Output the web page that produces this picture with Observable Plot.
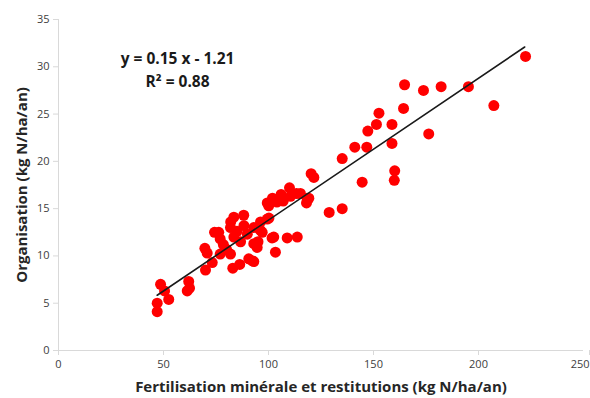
<!DOCTYPE html>
<html>
<head>
<meta charset="utf-8">
<script src="https://cdn.jsdelivr.net/npm/d3@7"></script>
<script src="https://cdn.jsdelivr.net/npm/@observablehq/plot@0.6"></script>
<style>
  body { margin: 0; background: #fff; }
</style>
</head>
<body>
<div id="chart"></div>
<script>
const fertilisation = [47,47,48.6,50.5,52.5,61.3,62,62.4,69.7,70.8,70,73.2,74.3,76.3,77,77,78.5,80,81.9,81.9,82,83.5,83.5,83,85,86.7,86.3,88.2,88.3,89.9,90.6,92.2,93,93,93,94.6,95,96.2,96.2,97,99.4,100.2,100.1,99.4,101.9,102.5,101.7,103.3,104,106,107,108.9,110,110.5,113.3,113.7,115.2,118.1,118.4,119.2,120.3,121.6,128.9,135.1,135.1,141.1,144.6,146.8,147.3,151.4,152.6,158.8,158.8,160.1,159.9,164.3,164.8,173.8,176.3,182.2,195.2,207.3,222.4];
const organisation = [4.1,5.0,7.0,6.3,5.4,6.3,7.3,6.6,10.8,10.3,8.5,9.3,12.5,12.5,11.8,10.2,11.2,10.7,10.2,13.0,13.6,14.1,12.0,8.7,12.6,11.5,9.1,14.3,13.2,12.3,9.7,9.5,13.0,11.3,9.4,10.9,11.5,13.6,12.7,12.5,13.9,14.0,15.3,15.6,16.1,12.0,11.9,10.4,15.7,16.5,15.8,11.9,17.2,16.3,16.6,12.0,16.6,15.6,16.1,16.1,18.7,18.3,14.6,15.0,20.3,21.5,17.8,21.5,23.2,23.9,25.1,23.9,21.9,19.0,18.0,25.6,28.1,27.5,22.9,27.9,27.9,25.9,31.1];
const trendX = [47, 222];
const trendY = [5.84, 32.09];
const xTicks = [0, 50, 100, 150, 200];
const xTickLast = [250];
const yTicks = [0, 5, 10, 15, 20, 25, 30, 35];
const equationText = ["y = 0.15 x - 1.21\nR² = 0.88"];
const xLabel = "Fertilisation minérale et restitutions (kg N/ha/an)";
const yLabel = "Organisation (kg N/ha/an)";

const points = fertilisation.map((x, i) => ({x, y: organisation[i]}));
const trend = trendX.map((x, i) => ({x, y: trendY[i]}));

const chart = Plot.plot({
  width: 590,
  height: 398,
  marginLeft: 58,
  marginRight: 7,
  marginTop: 19,
  marginBottom: 48,
  style: {fontFamily: "'Open Sans', sans-serif", fontSize: "11px", color: "#404040", background: "#fff"},
  x: {domain: [0, 250], label: null},
  y: {domain: [0, 35], label: null},
  marks: [
    Plot.axisX({ticks: xTicks, tickSize: 5, stroke: "#d9d9d9", tickPadding: 5, fill: "#404040", label: null}),
    Plot.axisX({ticks: xTickLast, tickSize: 5, stroke: "#d9d9d9", tickPadding: 5, fill: "#404040", label: null, textAnchor: "end", dx: 6}),
    Plot.axisY({ticks: yTicks, tickSize: 5, stroke: "#d9d9d9", tickPadding: 4, fill: "#404040", label: null}),
    Plot.ruleY([0], {stroke: "#d9d9d9", strokeWidth: 1}),
    Plot.ruleX([0], {stroke: "#d9d9d9", strokeWidth: 1}),
    Plot.dot(points, {x: "x", y: "y", r: 5.5, fill: "#ff0000", stroke: "none"}),
    Plot.line(trend, {x: "x", y: "y", stroke: "#1a1a1a", strokeWidth: 1.6}),
    Plot.text(equationText, {x: 56.7, y: 29.85, text: d => d, fontSize: 15.5, fontWeight: "bold", fill: "#1a1a1a", lineHeight: 1.45}),
    Plot.text([xLabel], {frameAnchor: "bottom", dy: 37, lineAnchor: "middle", textAnchor: "middle", text: d => d, fontSize: 15, fontWeight: "bold", fill: "#262626"}),
    Plot.text([yLabel], {frameAnchor: "left", dx: -36, rotate: -90, lineAnchor: "middle", textAnchor: "middle", text: d => d, fontSize: 15, fontWeight: "bold", fill: "#262626"})
  ]
});
document.getElementById("chart").appendChild(chart);
</script>
</body>
</html>
